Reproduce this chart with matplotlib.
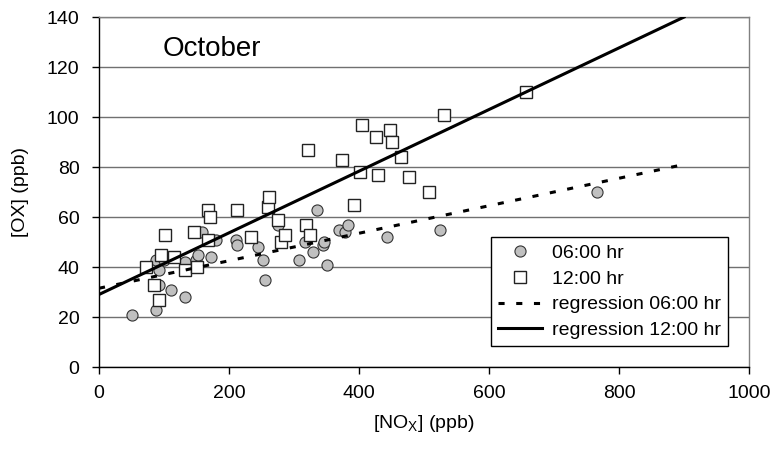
import matplotlib
matplotlib.use('Agg')
import matplotlib.pyplot as plt
import numpy as np

plt.rcParams['font.family'] = ['Liberation Sans', 'DejaVu Sans']
plt.rcParams['mathtext.fontset'] = 'custom'
plt.rcParams['mathtext.rm'] = 'Liberation Sans'

# 06:00 hr observations (NOx, OX) in ppb
nox_06 = [50, 87, 93, 92, 88, 93, 100, 110, 132, 133, 149, 152, 158, 172, 180, 211, 213,
          245, 252, 255, 276, 307, 317, 329, 335, 344, 346, 350, 369, 379, 383, 443, 524, 766]
ox_06 = [21, 23, 27, 33, 43, 39, 43, 31, 42, 28, 43, 45, 54, 44, 51, 51, 49,
         48, 43, 35, 57, 43, 50, 46, 63, 49, 50, 41, 55, 54, 57, 52, 55, 70]

# 12:00 hr observations
nox_12 = [72, 84, 92, 96, 102, 115, 133, 146, 151, 168, 168, 170, 212, 234, 260, 261, 275, 280,
          286, 319, 322, 325, 374, 392, 401, 405, 426, 429, 447, 451, 465, 477, 508, 530, 657]
ox_12 = [40, 33, 27, 45, 53, 44, 39, 54, 40, 51, 63, 60, 63, 52, 64, 68, 59, 50,
         53, 57, 87, 53, 83, 65, 78, 97, 92, 77, 95, 90, 84, 76, 70, 101, 110]

# regression lines (intercept, slope), drawn over 0..900 ppb
reg_06 = (31.5, 0.055)
reg_12 = (29.0, 0.1233)
reg_x = [0, 900]

fig = plt.figure(figsize=(7.81, 4.49), dpi=100)
ax = fig.add_axes([99 / 781, 82 / 449, 650 / 781, 350 / 449])

ax.set_axisbelow(True)
ax.yaxis.grid(True, color='#707070', lw=1.0)

ax.plot(nox_06, ox_06, 'o', ms=8, mfc='#c0c0c0', mec='#333333', mew=0.8,
        label='06:00 hr', zorder=3)
ax.plot(nox_12, ox_12, 's', ms=8, mfc='white', mec='#222222', mew=1.0,
        label='12:00 hr', zorder=3)

xr = np.array(reg_x)
ax.plot(xr, reg_06[0] + reg_06[1] * xr, color='black', lw=2.2,
        ls=(0, (2.0, 3.8)), label='regression 06:00 hr', zorder=4)
ax.plot(xr, reg_12[0] + reg_12[1] * xr, color='black', lw=2.2,
        label='regression 12:00 hr', zorder=4)

ax.set_xlim(0, 1000)
ax.set_ylim(0, 140)
ax.set_xticks(np.arange(0, 1001, 200))
ax.set_yticks(np.arange(0, 141, 20))
ax.tick_params(direction='out', length=5, width=1, labelsize=14, color='black')
ax.tick_params(axis='x', pad=8)
ax.tick_params(axis='y', pad=9)

for side in ['left', 'bottom']:
    ax.spines[side].set_color('black')
    ax.spines[side].set_linewidth(1)
for side in ['top', 'right']:
    ax.spines[side].set_color('#808080')
    ax.spines[side].set_linewidth(1)

ax.set_xlabel('[NO$_\\mathrm{X}$] (ppb)', fontsize=14, labelpad=8)
ax.set_ylabel('[OX] (ppb)', fontsize=14, labelpad=13)

ax.text(0.098, 0.91, 'October', transform=ax.transAxes, fontsize=20, va='center', ha='left')

leg = ax.legend(loc='lower right', bbox_to_anchor=(728 / 781, (449 - 346) / 449),
                bbox_transform=fig.transFigure, fontsize=14, frameon=True, fancybox=False,
                edgecolor='black', framealpha=1, borderpad=0.35, labelspacing=0.42,
                handlelength=2.3, handletextpad=0.5, borderaxespad=0)
leg.get_frame().set_linewidth(1)

fig.savefig('out.png', dpi=100)
